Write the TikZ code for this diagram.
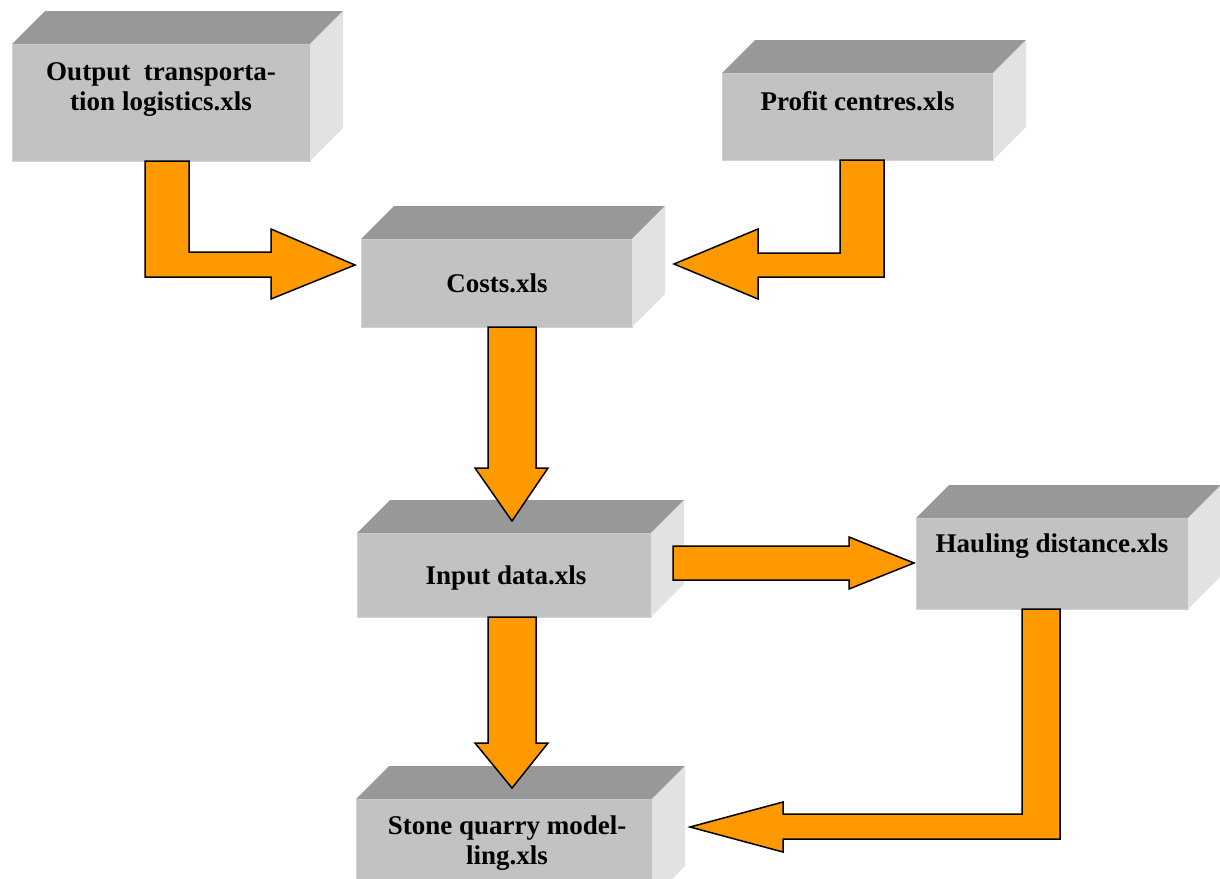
\documentclass[tikz,border=0pt]{standalone}
\usepackage{fontspec}
\setmainfont{Liberation Serif}
\usetikzlibrary{calc}
\definecolor{frontgray}{HTML}{C2C2C2}
\definecolor{frontedge}{HTML}{D2D2D2}
\definecolor{topgray}{HTML}{989898}
\definecolor{sidegray}{HTML}{E2E2E2}
\definecolor{flow}{HTML}{FF9900}
\tikzset{
  face/.style={fill=frontgray, draw=frontedge, line width=1pt, inner sep=0pt, outer sep=0pt},
  lbl/.style={align=center, inner sep=0pt, font=\fontsize{27}{30}\selectfont\bfseries},
  flowarrow/.style={fill=flow, draw=black, line width=1.5pt, line join=miter},
}
% a box with a front face node, a darker top and a lighter right side
\newcommand\quarrybox[5]{%
  \node[face, minimum width=#4pt, minimum height=#5pt] (#1) at (#2,#3) {};
  \fill[topgray] (#1.north west) -- ++(33,-33) -- ($(#1.north east)+(33,-33)$) -- (#1.north east) -- cycle;
  \fill[sidegray] (#1.north east) -- ++(33,-33) -- ($(#1.south east)+(33,-33)$) -- (#1.south east) -- cycle;
}
\begin{document}
\begin{tikzpicture}[x=1pt,y=-1pt]
\useasboundingbox (0,0) rectangle (1220,878);
\clip (0,0) rectangle (1220,878);

% boxes
\quarrybox{out}{161}{102.5}{298}{117}
\quarrybox{costs}{496.5}{283}{271}{88}
\quarrybox{profit}{857.5}{116.5}{271}{87}
\quarrybox{input}{504}{575}{294}{84}
\quarrybox{haul}{1052}{563.5}{272}{91}
\quarrybox{stone}{504}{849}{296}{100}

% labels
\node[lbl] (outT) at (161,89.5) {Output\ \ transporta-\\tion logistics.xls};
\node[lbl] (profitT) at (857.5,101) {Profit centres.xls};
\node[lbl] (costsT) at (497,283) {Costs.xls};
\node[lbl] (inputT) at (506,578) {Input data.xls};
\node[lbl] (haulT) at (1052,546) {Hauling distance.xls};
\node[lbl] (stoneT) at (507,843) {Stone quarry model-\\ling.xls};

% block arrows
% output -> costs
\draw[flowarrow] ($(out.south)+(-16,0)$) -- ++(44,0) -- ++(0,91) -- ++(82,0) -- ++(0,-23)
  -- ++(84,36) -- ++(-84,34) -- ++(0,-22) -- ++(-126,0) -- cycle;
% profit centres -> costs
\draw[flowarrow] ($(profit.south)+(-17.5,0)$) -- ++(44,0) -- ++(0,117) -- ++(-126,0) -- ++(0,22)
  -- ++(-84,-35) -- ++(84,-35) -- ++(0,24) -- ++(82,0) -- cycle;
% costs -> input data
\draw[flowarrow] ($(costs.south)+(-8.5,0)$) -- ++(48,0) -- ++(0,141) -- ++(12,0)
  -- ++(-36,53) -- ++(-37,-53) -- ++(13,0) -- cycle;
% input data -> hauling distance
\draw[flowarrow] ($(input.east)+(22,-29)$) -- ++(176,0) -- ++(0,-9) -- ++(65,26)
  -- ++(-65,26) -- ++(0,-9) -- ++(-176,0) -- cycle;
% input data -> stone quarry
\draw[flowarrow] ($(input.south)+(-16,0)$) -- ++(48,0) -- ++(0,126) -- ++(12,0)
  -- ++(-36,45) -- ++(-37,-45) -- ++(13,0) -- cycle;
% hauling distance -> stone quarry
\draw[flowarrow] ($(haul.south)+(-30,0)$) -- ++(38,0) -- ++(0,230) -- ++(-277,0) -- ++(0,13)
  -- ++(-93,-25) -- ++(93,-25) -- ++(0,12) -- ++(239,0) -- cycle;
\end{tikzpicture}
\end{document}
